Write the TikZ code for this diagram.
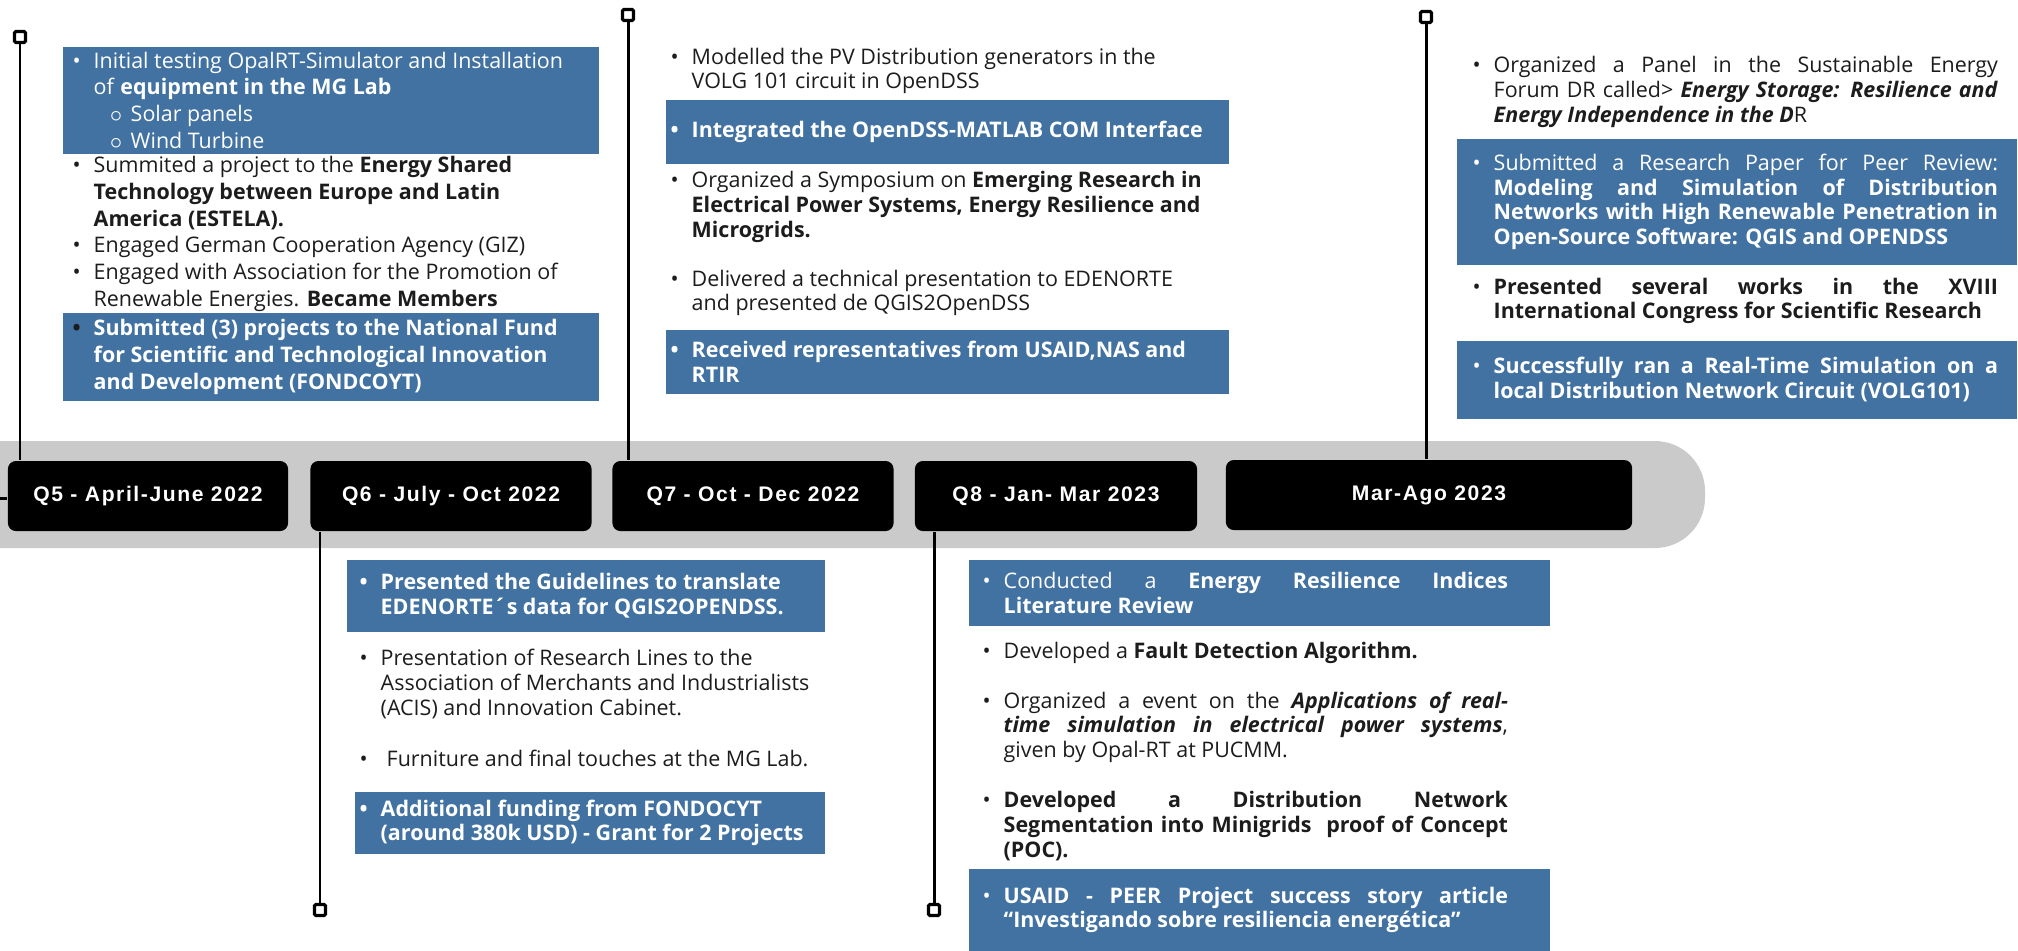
\documentclass[tikz,border=0pt]{standalone}
\usepackage{fontspec}
\setmainfont{Open Sans}
\newfontfamily\labelfont[LetterSpace=7.5]{Liberation Sans}
\usetikzlibrary{positioning}

\definecolor{tlblue}{RGB}{66,114,161}
\definecolor{bandgray}{RGB}{202,202,202}
\definecolor{bodytext}{RGB}{28,28,28}

\newcommand{\itm}{\leavevmode\llap{\textbullet\hspace{0.13cm}}}
\newcommand{\subitm}{\hspace*{0.37cm}\llap{$\circ$\hspace{0.08cm}}}
\newcommand{\jl}[1]{\makebox[5.04cm][s]{#1}\\}

\begin{document}
\begin{tikzpicture}[x=0.01cm, y=-0.01cm]
    \tikzset{
      band/.style={fill=bandgray, rounded corners=0.5cm},
      quarter/.style={fill=black, text=white, rounded corners=0.08cm, minimum height=0.70cm, inner sep=0,
        font=\labelfont\bfseries\fontsize{6pt}{7pt}\selectfont},
      marker/.style={draw=black, fill=white, line width=0.9pt, minimum size=0.11cm, inner sep=0, rounded corners=0.4pt},
      link/.style={draw=black, line width=0.85pt},
      bluebox/.style={fill=tlblue, anchor=north west, inner sep=0},
      entry/.style={anchor=west, inner sep=0, align=left, text width=#1, text=bodytext,
        font=\fontsize{6.1pt}{7pt}\selectfont,
        execute at begin node={\spaceskip=0pt\xspaceskip=0pt\relax}},
      entry/.default=5.5cm,
      onblue/.style={text=white}
    }
    \useasboundingbox (0,0) rectangle (2018,950);
    \fill[band] (-100,441) rectangle (1705,548); % timeline band

    \draw (148,496) node (qfive) [quarter, minimum width=2.80cm] {Q5 - April-June 2022};
    \draw (451,496) node (qsix) [quarter, minimum width=2.81cm] {Q6 - July - Oct 2022};
    \draw (753,496) node (qseven) [quarter, minimum width=2.81cm] {Q7 - Oct - Dec 2022};
    \draw (1056,496) node (qeight) [quarter, minimum width=2.82cm] {Q8 - Jan- Mar 2023};
    \draw (1429,495) node (qnine) [quarter, minimum width=4.06cm] {Mar-Ago 2023};

    \draw (20,37) node (mka) [marker] {};
    \draw (628,15) node (mkb) [marker] {};
    \draw (1426,17) node (mkc) [marker] {};
    \draw (320,910) node (mkd) [marker] {};
    \draw (934,910) node (mke) [marker] {};

    \foreach \mk/\q/\side in {mka/qfive/north, mkb/qseven/north, mkc/qnine/north, mkd/qsix/south, mke/qeight/south}
      \draw[link] (\mk) -- (\mk |- \q.\side);
    \coordinate (leftend) at (0,498);
    \draw[link] (leftend) -- (qfive.west |- leftend);

    % Q5
    \draw (62,46) node (boxa) [bluebox, minimum width=5.36cm, minimum height=1.07cm] {};
    \draw ([xshift=0.31cm]boxa.west) node (txa) [entry, onblue, font=\fontsize{6.1pt}{7.6pt}\selectfont]
      {\itm Initial testing OpalRT-Simulator and Installation\\ of \textbf{equipment in the MG Lab}\\
       \subitm Solar panels\\ \subitm Wind Turbine};
    \draw (93,234) node (txa2) [entry, font=\fontsize{6.1pt}{7.6pt}\selectfont]
      {\itm Summited a project to the \textbf{Energy Shared}\\ \textbf{Technology between Europe and Latin}\\
       \textbf{America (ESTELA).}\\ \itm Engaged German Cooperation Agency (GIZ)\\
       \itm Engaged with Association for the Promotion of\\ Renewable Energies. \textbf{Became Members}};
    \draw (62,312) node (boxa2) [bluebox, minimum width=5.36cm, minimum height=0.88cm] {};
    \draw ([xshift=0.31cm]boxa2.west) node (txa3) [entry, onblue, font=\bfseries\fontsize{6.1pt}{7.6pt}\selectfont]
      {{\color{bodytext}\itm}Submitted (3) projects to the National Fund\\ for Scientific and Technological Innovation\\
       and Development (FONDCOYT)};

    % Q7
    \draw (691,71) node (txb) [entry] {\itm Modelled the PV Distribution generators in the\\ VOLG 101 circuit in OpenDSS};
    \draw (665,99) node (boxb) [bluebox, minimum width=5.63cm, minimum height=0.64cm] {};
    \draw ([xshift=0.26cm]boxb.west) node (txb2) [entry, onblue, font=\bfseries\fontsize{6.1pt}{7pt}\selectfont]
      {\itm Integrated the OpenDSS-MATLAB COM Interface};
    \draw (691,207) node (txb3) [entry]
      {\itm Organized a Symposium on \textbf{Emerging Research in}\\
       \textbf{Electrical Power Systems, Energy Resilience and}\\ \textbf{Microgrids.}};
    \draw (691,293) node (txb4) [entry] {\itm Delivered a technical presentation to EDENORTE\\ and presented de QGIS2OpenDSS};
    \draw (665,329) node (boxb2) [bluebox, minimum width=5.63cm, minimum height=0.64cm] {};
    \draw ([xshift=0.26cm]boxb2.west) node (txb5) [entry, onblue, font=\bfseries\fontsize{6.1pt}{7pt}\selectfont]
      {\itm Received representatives from USAID,NAS and\\ RTIR};

    % Mar-Ago
    \draw (1493,92) node (txc) [entry=5.04cm]
      {\itm\jl{Organized a Panel in the Sustainable Energy}
       \jl{Forum DR called> \textbf{\textit{Energy Storage: Resilience and}}}
       \textbf{\textit{Energy Independence in the D}}R};
    \draw (1456,138) node (boxc) [bluebox, minimum width=5.60cm, minimum height=1.26cm] {};
    \draw ([xshift=0.37cm]boxc.west) node (txc2) [entry=5.04cm, onblue]
      {\itm\jl{Submitted a Research Paper for Peer Review:}
       \jl{\bfseries Modeling and Simulation of Distribution}
       \jl{\bfseries Networks with High Renewable Penetration in}
       {\bfseries Open-Source Software: QGIS and OPENDSS}};
    \draw (1493,301) node (txc3) [entry=5.04cm]
      {\itm\jl{\bfseries Presented several works in the XVIII}
       {\bfseries International Congress for Scientific Research}};
    \draw (1456,340) node (boxc2) [bluebox, minimum width=5.60cm, minimum height=0.78cm] {};
    \draw ([xshift=0.37cm]boxc2.west) node (txc4) [entry=5.04cm, onblue]
      {\itm\jl{\bfseries Successfully ran a Real-Time Simulation on a}
       {\bfseries local Distribution Network Circuit (VOLG101)}};

    % Q6
    \draw (346,559) node (boxd) [bluebox, minimum width=4.78cm, minimum height=0.72cm] {};
    \draw ([xshift=0.34cm]boxd.west) node (txd) [entry=4.6cm, onblue, font=\bfseries\fontsize{6.1pt}{7pt}\selectfont]
      {\itm Presented the Guidelines to translate\\ EDENORTE´s data for QGIS2OPENDSS.};
    \draw (380,684) node (txd2) [entry=4.6cm]
      {\itm Presentation of Research Lines to the\\ Association of Merchants and Industrialists\\
       (ACIS) and Innovation Cabinet.};
    \draw (380,758) node (txd3) [entry=4.6cm] {\itm\hspace{0.06cm}Furniture and final touches at the MG Lab.};
    \draw (354,791) node (boxd2) [bluebox, minimum width=4.70cm, minimum height=0.62cm] {};
    \draw ([xshift=0.26cm]boxd2.west) node (txd4) [entry=4.6cm, onblue, font=\bfseries\fontsize{6.1pt}{7pt}\selectfont]
      {\itm Additional funding from FONDOCYT\\ (around 380k USD) - Grant for 2 Projects};

    % Q8
    \draw (968,559) node (boxe) [bluebox, minimum width=5.81cm, minimum height=0.66cm] {};
    \draw ([xshift=0.35cm]boxe.west) node (txe) [entry=5.04cm, onblue]
      {\itm\jl{Conducted a \textbf{Energy Resilience Indices}}\textbf{Literature Review}};
    \draw (1003,653) node (txe2) [entry=5.04cm] {\itm Developed a \textbf{Fault Detection Algorithm.}};
    \draw (1003,727) node (txe3) [entry=5.04cm]
      {\itm\jl{Organized a event on the \textbf{\textit{Applications of real-}}}
       \jl{\textbf{\textit{time simulation in electrical power systems}},}
       given by Opal-RT at PUCMM.};
    \draw (1003,826) node (txe4) [entry=5.04cm]
      {\itm\jl{\bfseries Developed a Distribution Network}
       \jl{\bfseries Segmentation into Minigrids\ \ proof of Concept}
       {\bfseries (POC).}};
    \draw (968,868) node (boxe2) [bluebox, minimum width=5.81cm, minimum height=0.82cm] {};
    \draw ([xshift=0.35cm]boxe2.west) node (txe5) [entry=5.04cm, onblue]
      {\itm\jl{\bfseries USAID - PEER Project success story article}
       {\bfseries “Investigando sobre resiliencia energética”}};
\end{tikzpicture}
\end{document}
